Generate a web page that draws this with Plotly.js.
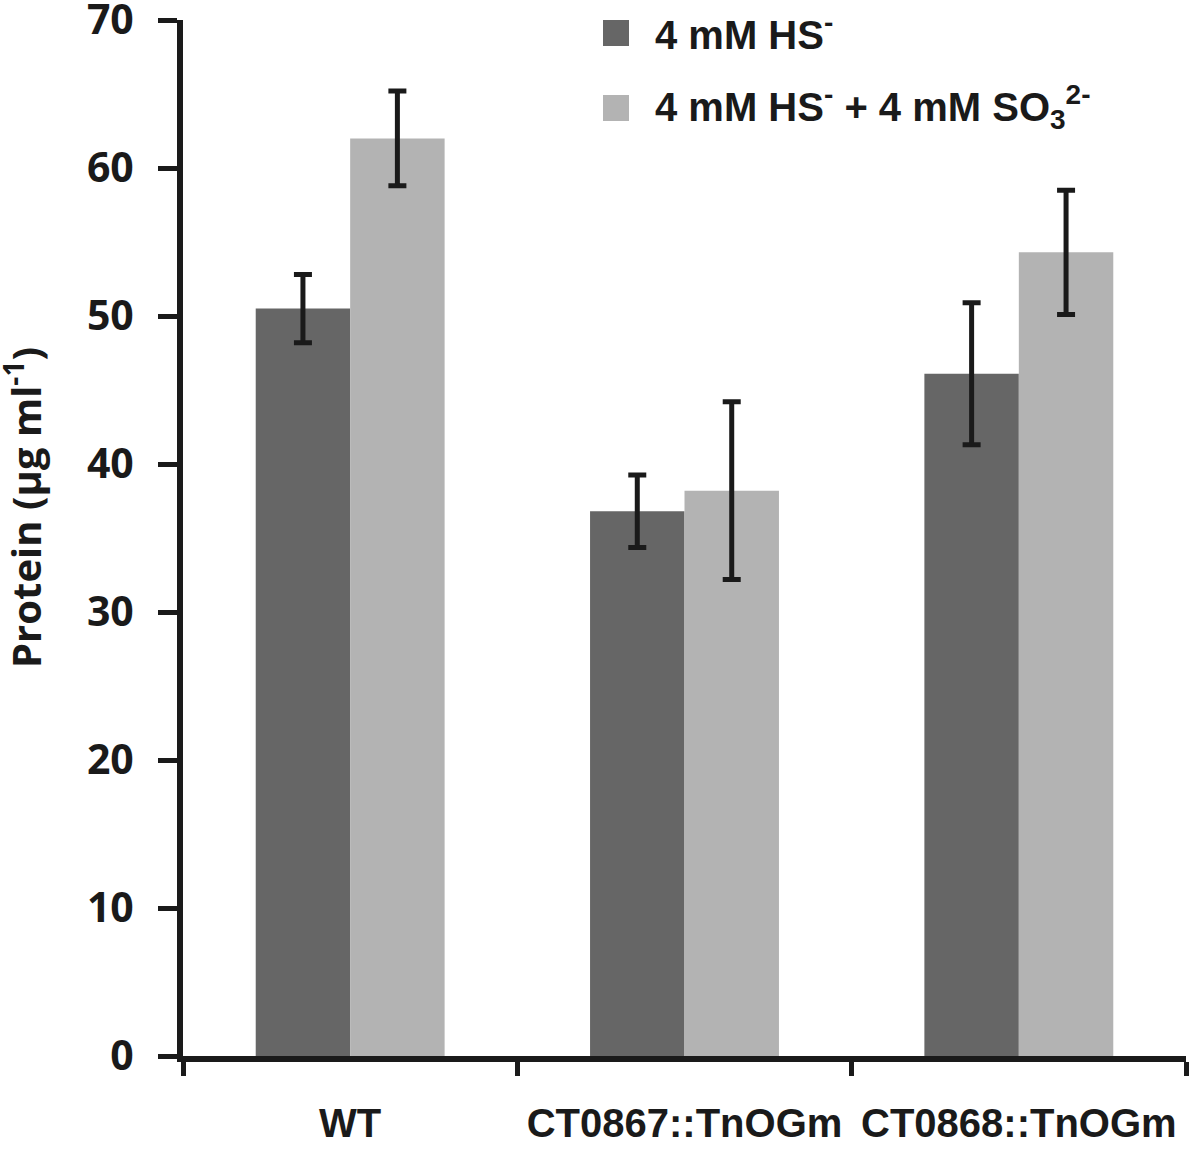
<!DOCTYPE html>
<html><head><meta charset="utf-8">
<script src="https://cdn.plot.ly/plotly-3.0.1.min.js"></script>
<style>html,body{margin:0;padding:0;background:#fff}#chart{width:1200px;height:1149px}</style>
</head><body><div id="chart"></div>
<script>
const categories = ['WT', 'CT0867::TnOGm', 'CT0868::TnOGm'];
const seriesNames = ['4 mM HS<sup>-</sup>', '4 mM HS<sup>-</sup> + 4 mM SO<sub>3</sub><sup>2-</sup>'];
const hsValues = [50.5, 36.8, 46.1];
const hsErrors = [2.3, 2.45, 4.8];
const hsSo3Values = [62.0, 38.2, 54.3];
const hsSo3Errors = [3.2, 6.0, 4.2];
const yTickVals = [0, 10, 20, 30, 40, 50, 60, 70];
const yTitle = 'Protein (μg ml<sup>-1</sup>)';

const W = 1200, H = 1149;
const M = {l: 183, r: 14, t: 20, b: 93};
const pw = W - M.l - M.r, ph = H - M.t - M.b;
const px = x => (x - M.l) / pw;
const py = y => (H - M.b - y) / ph;

const ink = '#1a1a1a';
const colors = ['#666666', '#b3b3b3'];

const traces = [
  {type: 'bar', x: categories, y: hsValues, name: seriesNames[0],
   marker: {color: colors[0], line: {width: 0}},
   error_y: {type: 'data', array: hsErrors, visible: true, color: ink, thickness: 5, width: 9}},
  {type: 'bar', x: categories, y: hsSo3Values, name: seriesNames[1],
   marker: {color: colors[1], line: {width: 0}},
   error_y: {type: 'data', array: hsSo3Errors, visible: true, color: ink, thickness: 5, width: 9}}
];

const legendSquares = [[603, 20], [603, 95]];
const shapes = legendSquares.map((p, i) => ({
  type: 'rect', xref: 'paper', yref: 'paper',
  x0: px(p[0]), x1: px(p[0] + 26), y0: py(p[1]), y1: py(p[1] + 26),
  fillcolor: colors[i], line: {width: 0}
}));

const annotations = legendSquares.map((p, i) => ({
  xref: 'paper', yref: 'paper', x: px(653), y: py(p[1] + 12),
  xanchor: 'left', yanchor: 'middle', showarrow: false,
  text: seriesNames[i],
  font: {family: 'Liberation Sans, Arial, sans-serif', size: 40, color: ink, weight: 'bold'}
}));
annotations.push({
  xref: 'paper', yref: 'paper', x: px(24), y: py(508),
  xanchor: 'center', yanchor: 'middle', showarrow: false, textangle: -90,
  text: yTitle,
  font: {family: 'Open Sans, sans-serif', size: 40, color: ink, weight: 'bold'}
});

const layout = {
  width: W, height: H,
  margin: M,
  paper_bgcolor: '#fff', plot_bgcolor: '#fff',
  showlegend: false,
  barmode: 'group', bargap: 0.435, bargroupgap: 0,
  xaxis: {
    type: 'category', range: [-0.5, 2.5],
    showline: true, linecolor: ink, linewidth: 6,
    ticks: 'outside', tickson: 'boundaries', ticklen: 14, tickwidth: 5, tickcolor: ink,
    showgrid: false, zeroline: false,
    tickangle: 0, automargin: false, ticklabeloverflow: 'allow',
    ticklabelstandoff: 27,
    tickfont: {family: 'Liberation Sans, Arial, sans-serif', size: 40, color: ink, weight: 'bold'}
  },
  yaxis: {
    range: [0, 70], tickvals: yTickVals,
    showline: true, linecolor: ink, linewidth: 6,
    ticks: 'outside', ticklen: 19, tickwidth: 5, tickcolor: ink,
    showgrid: false, zeroline: false, automargin: false, ticklabeloverflow: 'allow',
    ticklabelstandoff: 16,
    tickfont: {family: 'Open Sans, sans-serif', size: 41, color: ink, weight: 'bold'}
  },
  shapes: shapes,
  annotations: annotations
};

Plotly.newPlot('chart', traces, layout, {displayModeBar: false, staticPlot: true});
</script>
</body></html>
